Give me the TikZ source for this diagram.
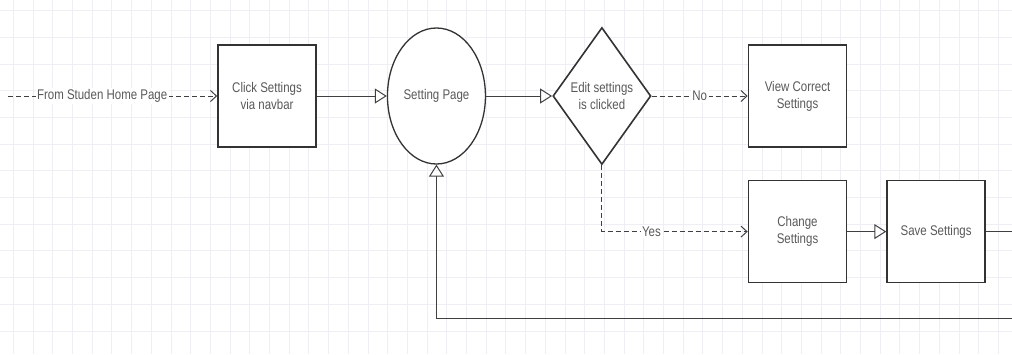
\documentclass[tikz,border=0pt]{standalone}
\usepackage{fontspec}
\setmainfont{Liberation Sans}[FakeStretch=0.82]
\usetikzlibrary{arrows.meta,positioning,shapes.geometric}

\definecolor{gridline}{RGB}{238,238,245}

\begin{document}
\begin{tikzpicture}[x=1pt,y=-1pt,>={Triangle[open,length=12pt,width=15pt]},
        font=\fontsize{14}{17}\selectfont,text=black!65,
        box/.style={draw=black!80,line width=1.6pt,fill=white,minimum width=98pt,
            minimum height=102pt,inner sep=0pt,align=center},
        page/.style={ellipse,draw=black!80,line width=1.3pt,fill=white,
            minimum width=98pt,minimum height=136pt,inner sep=0pt},
        choice/.style={diamond,draw=black!80,line width=1.6pt,fill=white,
            minimum width=98pt,minimum height=137pt,inner sep=0pt,align=center},
        flow/.style={->,draw=black!75,line width=1pt},
        opt/.style={draw=black!75,line width=1pt,dash pattern=on 5pt off 3pt,
            -{Straight Barb[length=6pt,width=11pt]}},
        lbl/.style={fill=white,inner sep=1.5pt}]

  \clip (0,0) rectangle (1012,354);
  % background grid
  \foreach \gx in {0,...,50}
    \draw[gridline,line width=0.8pt] (13.3+19.7*\gx,0) -- ++(0,354);
  \foreach \gy in {0,...,13}
    \draw[gridline,line width=0.8pt] (0,10.5+26.7*\gy) -- ++(1012,0);

  \node[box] (click) at (267,96) {Click Settings\\via navbar};
  \node[page] (page) [right=70pt of click] {Setting Page};
  \node[choice] (edit) [right=66pt of page] {Edit settings\\is clicked};
  \node[box] (view) [right=96pt of edit] {View Correct\\Settings};
  \node[box] (change) [below=32pt of view] {Change\\Settings};
  \node[box] (save) [right=39pt of change] {Save Settings};

  \coordinate (start) at (8,96);
  \path (save.east) ++(50,0) coordinate (exit) ++(0,87) coordinate (back);

  \path (start) edge[opt] node[lbl,pos=0.45] {From Studen Home Page} (click)
        (click) edge[flow] (page)
        (page) edge[flow] (edit)
        (edit) edge[opt] node[lbl] {No} (view)
        (change) edge[flow] (save);

  \draw[opt] (edit.south) |- node[lbl,pos=0.67] {Yes} (change);
  \draw[flow] (save.east) -- (exit) -- (back) -| (page.south);

\end{tikzpicture}
\end{document}
